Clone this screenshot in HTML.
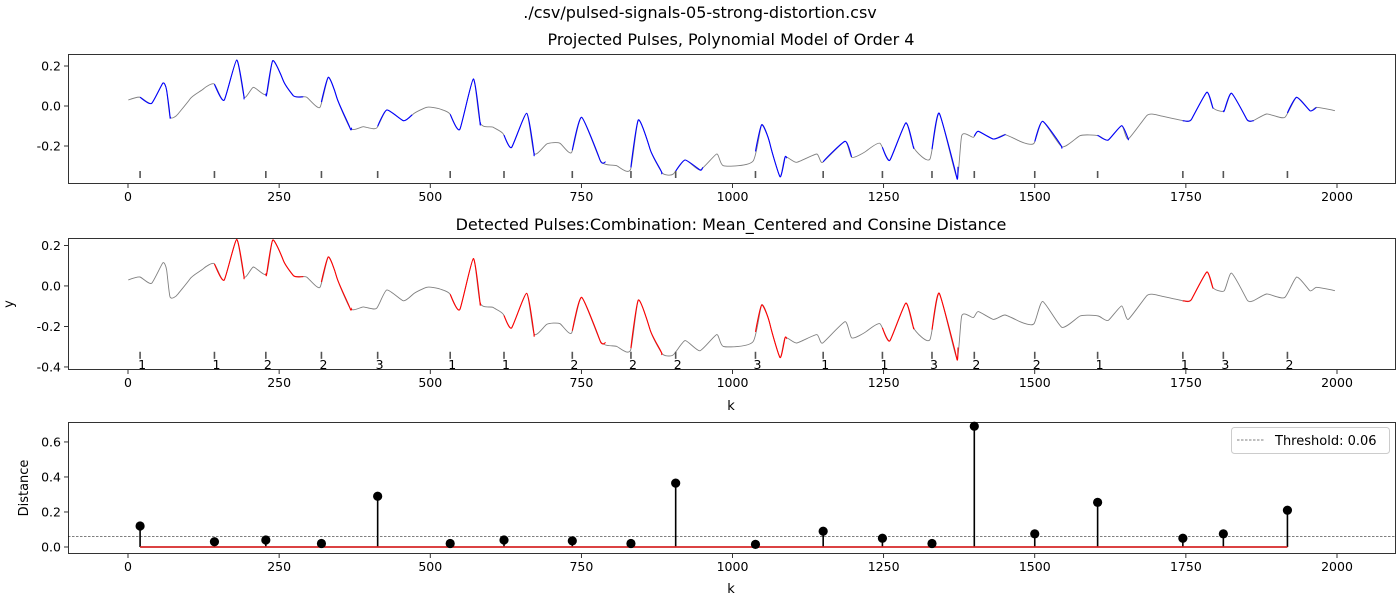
<!DOCTYPE html>
<html><head><meta charset="utf-8"><style>
html,body{margin:0;padding:0;background:#fff;}
svg{display:block;font-family:"DejaVu Sans","Liberation Sans",sans-serif;}
</style></head><body>
<svg id="fig" width="1400" height="600" viewBox="0 0 1400 600" xmlns="http://www.w3.org/2000/svg">
<text x="700" y="18" text-anchor="middle" font-size="16">./csv/pulsed-signals-05-strong-distortion.csv</text>
</svg>
<script>
// ---- data ----
const sigK = [0.5,19.9,39.2,57.4,64,69.5,82.7,102.5,124.6,142.8,159.3,179.8,191.9,207.3,229.5,239.4,256.9,273.5,295.6,317.6,331.4,345.3,367.3,389.3,411.4,428,455.4,472,494.1,516.1,532.7,549.2,571.2,582.3,604.3,620.9,634.8,659.6,671.6,692.6,714.6,734,750.5,780.8,808.4,831.6,844.2,863.5,882.9,902.1,921.5,946.3,973.9,984.8,1034.4,1048.3,1062.1,1078.6,1086.8,1106.2,1139.3,1149.2,1186.1,1197.2,1222,1244,1260.6,1286.5,1299.1,1326.7,1342.1,1370.9,1379.2,1398.4,1406.6,1431.4,1450.8,1475.6,1498.8,1513.2,1544.6,1574.9,1605.1,1621.7,1643.8,1654.7,1685.2,1707.2,1745.7,1759.6,1784.4,1794.3,1813.5,1825.7,1850.5,1861.4,1883.5,1913.8,1933.2,1955.2,1966.3,1996.5];
const sigY = [0.03,0.044,0.0135,0.1135,0.0765,-0.0535,-0.04,0.035,0.085,0.11,0.03,0.23,0.0465,0.0935,0.06,0.2265,0.1265,0.0515,0.0435,-0.0065,0.1435,0.0435,-0.11,-0.1035,-0.11,-0.02,-0.0735,-0.04,-0.0065,-0.015,-0.04,-0.115,0.135,-0.0815,-0.1065,-0.14,-0.2065,-0.0365,-0.2365,-0.19,-0.1865,-0.2315,-0.0565,-0.27,-0.2985,-0.315,-0.07,-0.215,-0.3315,-0.34,-0.27,-0.32,-0.24,-0.2985,-0.2735,-0.0935,-0.19,-0.3535,-0.2565,-0.2815,-0.24,-0.2815,-0.1765,-0.2565,-0.2235,-0.1865,-0.27,-0.085,-0.2035,-0.265,-0.0365,-0.3565,-0.1485,-0.1565,-0.1265,-0.165,-0.1435,-0.1765,-0.1865,-0.0765,-0.2035,-0.1485,-0.1485,-0.17,-0.0985,-0.165,-0.0485,-0.0485,-0.0735,-0.065,0.0685,-0.0065,-0.0235,0.0635,-0.065,-0.0735,-0.04,-0.0565,0.0435,-0.0235,-0.0065,-0.0235];
const pulseK = [20,143,228,320,413,533,622,735,832,906,1038,1150,1248,1330,1400,1500,1604,1745,1812,1918];
const pulseEnd = [70,192,290,370,470,583,672,790,883,951,1090,1197,1300,1373,1451,1545,1655,1795,1862,1966];
const pulseLabel = ["1","1","2","2","3","1","1","2","2","2","3","1","1","3","2","2","1","1","3","2"];
const distance = [0.12,0.03,0.04,0.02,0.29,0.02,0.04,0.035,0.02,0.365,0.015,0.09,0.05,0.02,0.69,0.075,0.255,0.05,0.075,0.21];
const threshold = 0.06;
const xTicks = [0,250,500,750,1000,1250,1500,1750,2000];
const y1Ticks = [0.2,0.0,-0.2];
const y2Ticks = [0.2,0.0,-0.2,-0.4];
const y3Ticks = [0.0,0.2,0.4,0.6];

// ---- layout ----
const NS="http://www.w3.org/2000/svg";
const fig=document.getElementById('fig');
function mk(tag,attrs,parent){const e=document.createElementNS(NS,tag);for(const k in attrs)e.setAttribute(k,attrs[k]);(parent||fig).appendChild(e);return e;}
const X0=68,X1=1396;
const xs=k=>128+k*0.6045;
const panels=[
 {top:54,bot:184,ymax:0.26,ymin:-0.39,ticks:y1Ticks,name:'projected-pulses'},
 {top:238,bot:370,ymax:0.2367,ymin:-0.415,ticks:y2Ticks,name:'detected-pulses'},
 {top:422,bot:554,ymax:0.714,ymin:-0.04,ticks:y3Ticks,name:'distance'}
];
function ysOf(p){return v=>p.top+(p.ymax-v)/(p.ymax-p.ymin)*(p.bot-p.top);}
function fmt(v){return v.toFixed(1)==="-0.0"?"0.0":v.toFixed(1);}

function axes(p){
  const g=mk('g',{});
  
  
  const ys=ysOf(p);
  xTicks.forEach(t=>{
    const x=xs(t);
    const l=mk('line',{x1:x,x2:x,y1:p.bot,y2:p.bot+4,stroke:'#000','stroke-width':0.8},g);
    
    
    const tx=mk('text',{x:x,y:p.bot+17,'text-anchor':'middle','font-size':12.5},g);
    tx.textContent=t;
    
    
  });
  p.ticks.forEach(t=>{
    const y=ys(t);
    const l=mk('line',{x1:X0-4,x2:X0,y1:y,y2:y,stroke:'#000','stroke-width':0.8},g);
    
    
    const tx=mk('text',{x:X0-7,y:y+4.5,'text-anchor':'end','font-size':12.5},g);
    tx.textContent=fmt(t);
    
    
  });
  return g;
}
function frame(p){
  const r=mk('rect',{x:X0+0.5,y:p.top+0.5,width:X1-X0-1,height:p.bot-p.top-1,fill:'none',stroke:'#000','stroke-width':0.8});
  
  
}
// smooth path through screen points (Catmull-Rom, reduced tension)
function smooth(pts){
  if(!pts.length)return '';
  let d='M'+pts[0][0].toFixed(1)+' '+pts[0][1].toFixed(1);
  const t=0.28;
  for(let i=0;i<pts.length-1;i++){
    const p0=pts[Math.max(0,i-1)],p1=pts[i],p2=pts[i+1],p3=pts[Math.min(pts.length-1,i+2)];
    const c1=[p1[0]+(p2[0]-p0[0])*t/1.5*0.5*2/2*1.0, p1[1]+(p2[1]-p0[1])*t*0.5];
    const c2=[p2[0]-(p3[0]-p1[0])*t/1.5*0.5*2/2*1.0, p2[1]-(p3[1]-p1[1])*t*0.5];
    // keep controls within the x-interval
    c1[0]=Math.min(Math.max(c1[0],p1[0]),p2[0]);
    c2[0]=Math.min(Math.max(c2[0],p1[0]),p2[0]);
    d+='C'+c1[0].toFixed(1)+' '+c1[1].toFixed(1)+' '+c2[0].toFixed(1)+' '+c2[1].toFixed(1)+' '+p2[0].toFixed(1)+' '+p2[1].toFixed(1);
  }
  return d;
}
function pathFor(ys){
  return smooth(sigK.map((k,i)=>[xs(k),ys(sigY[i])]));
}
function segPath(ys,k0,k1){
  const pts=[];
  for(let i=0;i<sigK.length-1;i++){
    const a=sigK[i],b=sigK[i+1];
    if(b<k0||a>k1)continue;
    const ka=Math.max(a,k0),kb=Math.min(b,k1);
    const va=sigY[i]+(sigY[i+1]-sigY[i])*(ka-a)/(b-a);
    const vb=sigY[i]+(sigY[i+1]-sigY[i])*(kb-a)/(b-a);
    if(!pts.length)pts.push([xs(ka),ys(va)]);
    pts.push([xs(kb),ys(vb)]);
  }
  return smooth(pts);
}

// ---- panel 1 ----
(function(){
  const p=panels[0],ys=ysOf(p);
  axes(p);
  const t=mk('text',{x:731,y:45,'text-anchor':'middle','font-size':16});
  t.textContent='Projected Pulses, Polynomial Model of Order 4';
  
  
  const s=mk('path',{d:pathFor(ys),fill:'none',stroke:'#808080','stroke-width':0.9});
  
  
  pulseK.forEach((k,i)=>{
    const b=mk('path',{d:segPath(ys,k,pulseEnd[i]),fill:'none',stroke:'#0000ff','stroke-width':1.1});
    
    
    const m=mk('line',{x1:xs(k),x2:xs(k),y1:ys(-0.325),y2:ys(-0.36),stroke:'#555','stroke-width':1.6});
    
    
  });
  frame(p);
})();

// ---- panel 2 ----
(function(){
  const p=panels[1],ys=ysOf(p);
  axes(p);
  const t=mk('text',{x:731,y:230,'text-anchor':'middle','font-size':16});
  t.textContent='Detected Pulses:Combination: Mean_Centered and Consine Distance';
  
  
  const s=mk('path',{d:pathFor(ys),fill:'none',stroke:'#808080','stroke-width':0.9});
  
  
  pulseK.forEach((k,i)=>{
    if(distance[i]<=threshold){
      const r=mk('path',{d:segPath(ys,k,pulseEnd[i]),fill:'none',stroke:'#ff0000','stroke-width':1.1});
      
      
    }
    const m=mk('line',{x1:xs(k),x2:xs(k),y1:ys(-0.325),y2:ys(-0.36),stroke:'#555','stroke-width':1.6});
    
    
    const l=mk('text',{x:xs(k)+2,y:ys(-0.36)+10,'text-anchor':'middle','font-size':12.5});
    l.textContent=pulseLabel[i];
    
    
  });
  const xl=mk('text',{x:731,y:410,'text-anchor':'middle','font-size':13});
  xl.textContent='k';
  
  
  const yl=mk('text',{x:13,y:304,'text-anchor':'middle','font-size':13,transform:'rotate(-90 13 304)'});
  yl.textContent='y';
  
  
  frame(p);
})();

// ---- panel 3 ----
(function(){
  const p=panels[2],ys=ysOf(p);
  axes(p);
  const th=mk('line',{x1:X0,x2:X1,y1:ys(threshold),y2:ys(threshold),stroke:'#000','stroke-width':0.6,'stroke-dasharray':'2.5,1.5'});
  
  
  pulseK.forEach((k,i)=>{
    const st=mk('line',{x1:xs(k),x2:xs(k),y1:ys(0),y2:ys(distance[i]),stroke:'#000','stroke-width':1.6});
    
    
  });
  const base=mk('line',{x1:xs(pulseK[0]),x2:xs(pulseK[pulseK.length-1]),y1:ys(0),y2:ys(0),stroke:'#d62728','stroke-width':1.8});
  
  
  pulseK.forEach((k,i)=>{
    const c=mk('circle',{cx:xs(k),cy:ys(distance[i]),r:4.6,fill:'#000'});
    
    
  });
  const lg=mk('g',{});
  
  
  mk('rect',{x:1231.5,y:427.5,width:158,height:26,rx:3,fill:'#fff',stroke:'#ccc','stroke-width':1},lg);
  mk('line',{x1:1237,x2:1265,y1:440,y2:440,stroke:'#000','stroke-width':0.6,'stroke-dasharray':'2.5,1.5'},lg);
  const lt=mk('text',{x:1275,y:445,'font-size':13},lg);
  lt.textContent='Threshold: 0.06';
  
  
  const xl=mk('text',{x:731,y:593,'text-anchor':'middle','font-size':13});
  xl.textContent='k';
  
  
  const yl=mk('text',{x:28,y:488,'text-anchor':'middle','font-size':13,transform:'rotate(-90 28 488)'});
  yl.textContent='Distance';
  
  
  frame(p);
})();
</script>
</body></html>
